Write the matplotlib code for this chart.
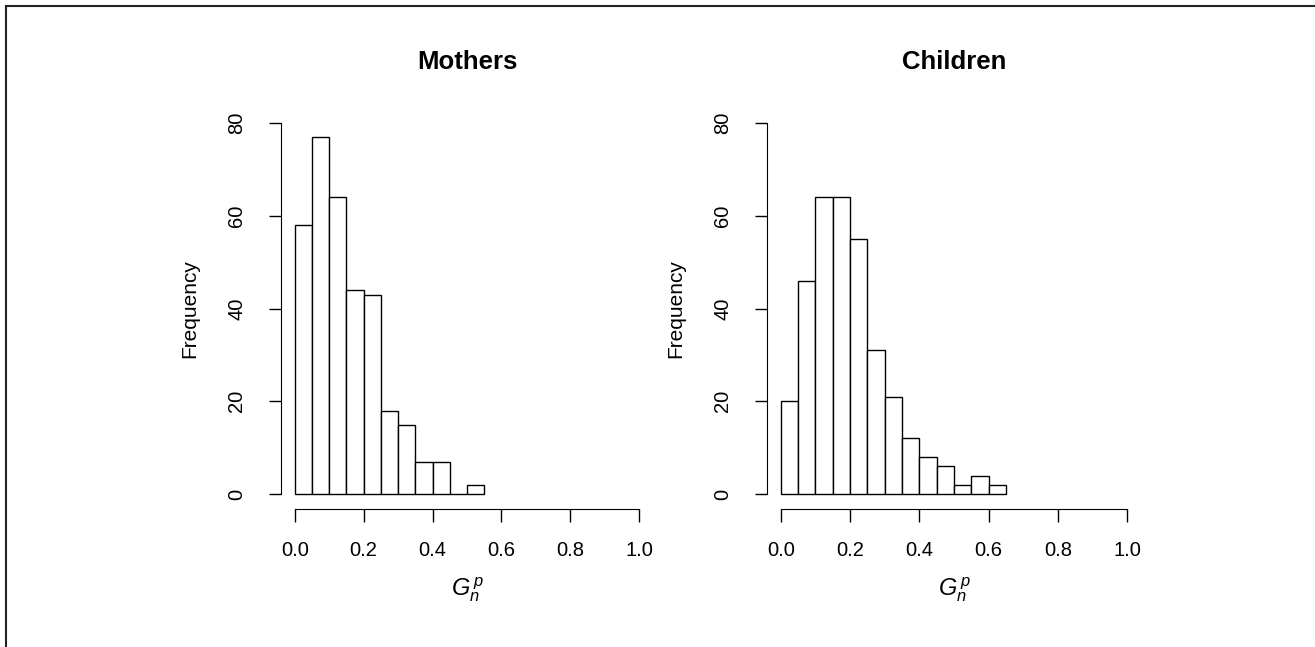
import numpy as np
import matplotlib
matplotlib.use("Agg")
import matplotlib.pyplot as plt
from matplotlib.lines import Line2D

plt.rcParams['font.family'] = ['Liberation Sans', 'DejaVu Sans']
plt.rcParams['mathtext.fontset'] = 'custom'
plt.rcParams['mathtext.it'] = 'Liberation Sans:italic'
plt.rcParams['mathtext.rm'] = 'Liberation Sans'

# bin edges (width 0.05) and counts
bin_width = 0.05
mothers_counts = [58, 77, 64, 44, 43, 18, 15, 7, 7, 0, 2]
children_counts = [20, 46, 64, 64, 55, 31, 21, 12, 8, 6, 2, 4, 2]
titles = ["Mothers", "Children"]
x_ticks = [0.0, 0.2, 0.4, 0.6, 0.8, 1.0]
y_ticks = [0, 20, 40, 60, 80]

fig = plt.figure(figsize=(13.15, 6.47), dpi=100)

positions = [[281/1315, 138/647, 372/1315, 401/647],
             [767/1315, 138/647, 374/1315, 401/647]]

for pos, counts, title in zip(positions, [mothers_counts, children_counts], titles):
    ax = fig.add_axes(pos)
    left = np.arange(len(counts)) * bin_width
    ax.bar(left, counts, width=bin_width, align='edge', color='white',
           edgecolor='black', linewidth=1.0)
    ax.set_xlim(-0.04, 1.04)
    ax.set_ylim(-3.2, 83.2)
    ax.spines['top'].set_visible(False)
    ax.spines['right'].set_visible(False)
    ax.spines['left'].set_bounds(0, 80)
    ax.spines['bottom'].set_bounds(0, 1)
    ax.set_xticks(x_ticks)
    ax.set_xticklabels(["%.1f" % t for t in x_ticks])
    ax.set_yticks(y_ticks)
    ax.set_yticklabels([str(t) for t in y_ticks], rotation=90, va='center')
    ax.tick_params(length=9, width=1, labelsize=14.5)
    ax.tick_params(axis='x', pad=14)
    ax.tick_params(axis='y', pad=16)
    ax.set_ylabel("Frequency", fontsize=15, labelpad=20)
    ax.set_xlabel(r"$G_n^{\,p}$", fontsize=17, labelpad=11)
    ax.set_title(title, fontsize=18.5, fontweight='bold', pad=28)

# partial frame around the figure (top and left edges)
fig.add_artist(Line2D([6/1315, 1], [1 - 6/647, 1 - 6/647], color='#222222', lw=1.5))
fig.add_artist(Line2D([6/1315, 6/1315], [0, 1 - 6/647], color='#222222', lw=1.5))

fig.savefig("out.png", dpi=100)
